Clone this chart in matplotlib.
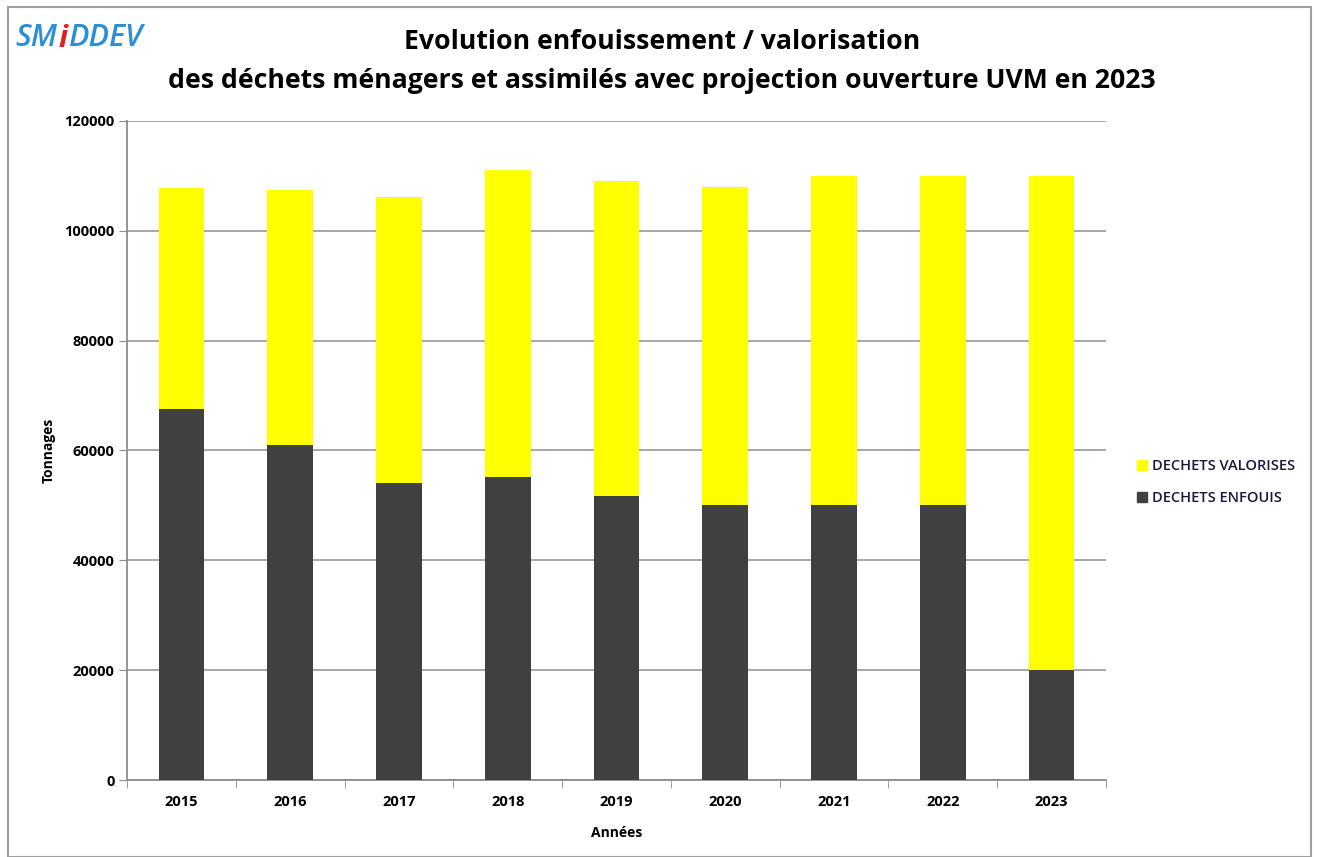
"""
Evolution enfouissement / valorisation - SMIDDEV
"""

import numpy as np
import matplotlib
matplotlib.use("Agg")
import matplotlib.pyplot as plt
from matplotlib.patches import Rectangle, Patch

annees = ['2015', '2016', '2017', '2018', '2019', '2020', '2021', '2022', '2023']
enfouis = [67500, 61000, 54100, 55200, 51700, 50000, 50000, 50000, 20000]
valorises = [40300, 46400, 52100, 55900, 57400, 58000, 60000, 60000, 90000]
yticks = [0, 20000, 40000, 60000, 80000, 100000, 120000]

plt.rcParams['font.family'] = ['Open Sans', 'DejaVu Sans']

fig = plt.figure(figsize=(13.17, 8.57), dpi=100)
W, H = 1317, 857
# axes box in pixels: left 127, right 1106, top 121, bottom 780
ax = fig.add_axes([127 / W, 1 - 780 / H, (1106 - 127) / W, (780 - 121) / H])

x = np.arange(len(annees))
ax.bar(x, enfouis, width=0.42, color='#404040', label='DECHETS ENFOUIS', zorder=3)
ax.bar(x, valorises, width=0.42, bottom=enfouis, color='#ffff00', label='DECHETS VALORISES', zorder=3)

ax.set_xlim(-0.5, len(annees) - 0.5)
ax.set_ylim(0, 120000)
ax.set_yticks(yticks)
ax.set_yticklabels([str(v) for v in yticks], fontsize=10.5, fontweight='bold')
ax.set_xticks(x)
ax.set_xticklabels(annees, fontsize=10.5, fontweight='bold')
# category separators on the x axis
ax.set_xticks(np.arange(-0.5, len(annees)), minor=True)
ax.tick_params(axis='x', which='major', length=0, pad=11)
ax.tick_params(axis='x', which='minor', length=6, color='#8c8c8c', direction='out')
ax.tick_params(axis='y', length=6, color='#8c8c8c', pad=3)
ax.grid(axis='y', color='#a0a0a0', linewidth=1.3, zorder=0)

for side in ['top', 'right']:
    ax.spines[side].set_visible(False)
for side in ['left', 'bottom']:
    ax.spines[side].set_color('#8c8c8c')
    ax.spines[side].set_linewidth(1.3)

ax.set_ylabel('Tonnages', fontsize=10, fontweight='bold', labelpad=6)
ax.set_xlabel('Années', fontsize=10, fontweight='bold', labelpad=12)

fig.text(662 / W, 1 - 42 / H, 'Evolution enfouissement / valorisation',
         ha='center', va='center', fontsize=19.2, fontweight='bold')
fig.text(662 / W, 1 - 81 / H,
         'des déchets ménagers et assimilés avec projection ouverture UVM en 2023',
         ha='center', va='center', fontsize=19.2, fontweight='bold')

# legend
handles = [Patch(color='#ffff00'), Patch(color='#404040')]
fig.legend(handles, ['DECHETS VALORISES', 'DECHETS ENFOUIS'],
           loc='center left', bbox_to_anchor=(1124 / W, 1 - 482 / H),
           frameon=False, handlelength=0.7, handleheight=0.7,
           handletextpad=0.3, labelspacing=1.2,
           labelcolor='#1a1a3a', prop={'weight': 'semibold', 'size': 10.5})

# logo
fig.text(15 / W, 1 - 38 / H, 'SM', color='#2a8fd6', fontsize=22, style='italic',
         fontweight='semibold', ha='left', va='center')
fig.text(58 / W, 1 - 39 / H, 'i', color='#e02020', fontsize=22, style='italic',
         fontweight='bold', ha='left', va='center')
fig.text(69 / W, 1 - 38 / H, 'DDEV', color='#2a8fd6', fontsize=22, style='italic',
         fontweight='semibold', ha='left', va='center')

# outer border
fig.patches.append(Rectangle((8 / W, 0), 1 - 14 / W, 1 - 7 / H, transform=fig.transFigure,
                             fill=False, edgecolor='#a0a0a0', linewidth=1.5))

fig.savefig('out.png', dpi=100)
